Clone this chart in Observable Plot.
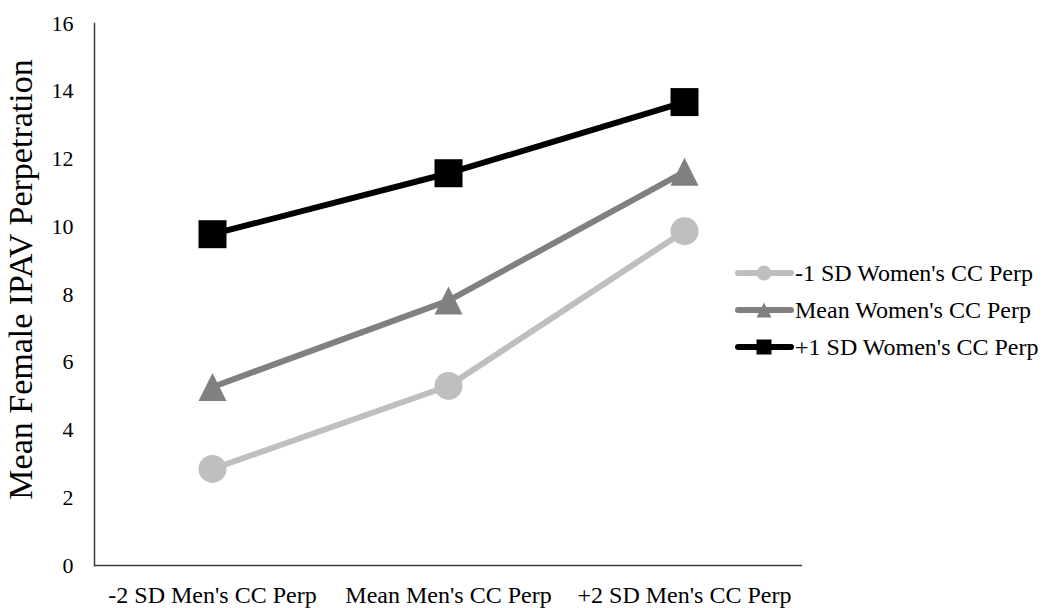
<!DOCTYPE html>
<html><head><meta charset="utf-8">
<script src="https://cdn.jsdelivr.net/npm/d3@7"></script>
<script src="https://cdn.jsdelivr.net/npm/@observablehq/plot@0.6"></script>
<style>
body{margin:0;background:#fff}
#wrap{position:relative;width:1044px;height:608px}
#legend{position:absolute;left:0;top:0;pointer-events:none}
</style>
</head><body><div id="wrap"></div>
<script>
const categories = ["-2 SD Men's CC Perp", "Mean Men's CC Perp", "+2 SD Men's CC Perp"];
const seriesNames = ["-1 SD Women's CC Perp", "Mean Women's CC Perp", "+1 SD Women's CC Perp"];
const lowValues = [2.85, 5.3, 9.87];
const meanValues = [5.27, 7.82, 11.62];
const highValues = [9.78, 11.58, 13.68];
const seriesColors = ["#BFBFBF", "#808080", "#000000"];
const seriesMarkers = ["circle", "triangle", "square"];
const yTicks = [0, 2, 4, 6, 8, 10, 12, 14, 16];
const yLabel = "Mean Female IPAV Perpetration";

const triangleSym = {draw(ctx, size){const r = Math.sqrt(size/Math.PI); ctx.moveTo(0,-r); ctx.lineTo(r,r); ctx.lineTo(-r,r); ctx.closePath();}};
const squareSym = {draw(ctx, size){const r = Math.sqrt(size/Math.PI); ctx.rect(-r,-r,2*r,2*r);}};
const circleSym = {draw(ctx, size){const r = Math.sqrt(size/Math.PI); ctx.moveTo(r,0); ctx.arc(0,0,r,0,2*Math.PI);}};
const symMap = {circle: circleSym, triangle: triangleSym, square: squareSym};

const allValues = [lowValues, meanValues, highValues];
const series = seriesNames.map((name, i) => ({
  name, color: seriesColors[i], marker: seriesMarkers[i],
  rows: categories.map((c, j) => ({cat: c, value: allValues[i][j], series: name}))
}));

const marks = [
  Plot.ruleY([0], {stroke: "#3a3a3a", strokeWidth: 1.5}),
  Plot.frame({anchor: "left", stroke: "#3a3a3a", strokeWidth: 1.5}),
  Plot.text([yLabel], {frameAnchor: "left", text: d => d, rotate: -90, textAnchor: "middle", dx: -73, dy: -15, fontSize: 34, fontFamily: "Liberation Serif", fill: "#000"}),
  Plot.axisY({ticks: yTicks, tickSize: 0, tickPadding: 21, label: null, fontSize: 22, fontFamily: "Liberation Serif"}),
  Plot.axisX({tickSize: 0, tickPadding: 20, label: null, fontSize: 24, fontFamily: "Liberation Serif"})
];
for (const s of series) {
  marks.push(Plot.line(s.rows, {x: "cat", y: "value", stroke: s.color, strokeWidth: 6}));
  marks.push(Plot.dot(s.rows, {x: "cat", y: "value", r: 14, symbol: symMap[s.marker], fill: s.color, stroke: "none"}));
}

const chart = Plot.plot({
  width: 1044, height: 608,
  marginLeft: 94, marginRight: 242, marginTop: 23, marginBottom: 43,
  style: {fontFamily: "Liberation Serif", fontSize: "22px", color: "#000", background: "#fff"},
  x: {type: "point", domain: categories, padding: 0.5},
  y: {domain: [0, 16]},
  marks
});
const wrap = document.getElementById("wrap");
wrap.appendChild(chart);

// legend
const lg = d3.create("svg").attr("id", "legend").attr("width", 1044).attr("height", 608);
const rowY = [273, 310, 347];
series.forEach((s, i) => {
  const g = lg.append("g").attr("transform", `translate(0,${rowY[i]})`);
  g.append("line").attr("x1", 738).attr("x2", 791).attr("y1", 0).attr("y2", 0)
    .attr("stroke", s.color).attr("stroke-width", 6).attr("stroke-linecap", "round");
  const sym = symMap[s.marker];
  const p = d3.path(); sym.draw(p, Math.PI * 7.5 * 7.5);
  g.append("path").attr("transform", "translate(764,0)").attr("d", p.toString()).attr("fill", s.color);
  g.append("text").attr("x", 795).attr("y", 0).attr("dy", "0.35em")
    .attr("font-family", "Liberation Serif").attr("font-size", 24).attr("fill", "#000")
    .text(s.name);
});
wrap.appendChild(lg.node());
</script>
</body></html>
